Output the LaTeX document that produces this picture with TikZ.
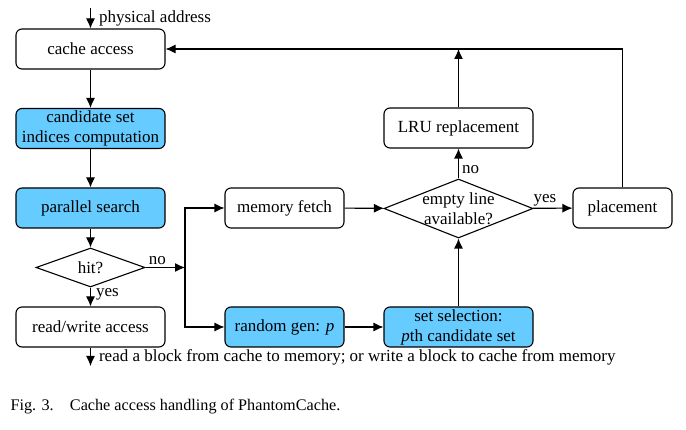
\documentclass[tikz,border=0pt]{standalone}
\usepackage{fontspec}
\setmainfont{Liberation Serif}
\usepackage{tikz}
\usetikzlibrary{shapes.geometric, arrows.meta, positioning}

\definecolor{cblue}{RGB}{102,204,255}

\tikzset{
  box/.style={draw, rounded corners=6pt, line width=1.1pt, minimum width=149pt,
    minimum height=40pt, inner sep=0pt, align=center},
  decision/.style={draw, diamond, line width=1.1pt, inner sep=0pt},
  lbl/.style={inner sep=4pt}
}

\begin{document}
\begin{tikzpicture}[x=1pt, y=-1pt, ->, >={Latex[length=10pt,width=9pt]}, line width=1.1pt,
  font=\rmfamily\fontsize{17}{20}\selectfont]
  \useasboundingbox (0,0) rectangle (686,430);

  % left column
  \node[box] (access) at (90.5,49) {cache access};
  \node[box, fill=cblue] (indices) at (90.5,128.5) {candidate set\\indices computation};
  \node[box, fill=cblue] (search) at (90.5,208) {parallel search};
  \node[decision, minimum width=109pt, minimum height=39pt] (hit) at (90.5,267.5) {};
  \node (hittext) at (hit) {hit?};
  \node[box] (rw) at (90.5,327) {read/write access};

  % miss path
  \node[box, minimum width=119pt] (fetch) at (284.5,208) {memory fetch};
  \node[box, minimum width=119pt, fill=cblue] (rand) at (284.5,327) {random gen: \textit{p}};
  \node[decision, minimum width=149pt, minimum height=59pt] (empty) at (458.5,208.5) {};
  \node[align=center, inner sep=0pt] (emptytext) at (empty) {empty line\\available?};
  \node[box, fill=cblue] (sel) at (458.5,327) {set selection:\\\textit{p}th candidate set};
  \node[box] (lru) at (458.5,128) {LRU replacement};
  \node[box, minimum width=99pt] (place) at (622.5,208) {placement};

  \coordinate (in) at (90.5,8);
  \coordinate (out) at (90.5,366);
  \coordinate (split) at (185,267.5);

  \draw (in) -- node[right, lbl, inner xsep=8pt] {physical address} (access);
  \draw (access) -- (indices);
  \draw (indices) -- (search);
  \draw (search) -- (hit);
  \draw (hit) -- node[right, lbl, pos=0.35, inner xsep=5pt] {yes} (rw);
  \draw (rw) -- node[right, lbl, pos=0.55, inner xsep=8pt] {read a block from cache to memory; or write a block to cache from memory} (out);

  \draw (hit.east) -- node[above, lbl, pos=0.3, inner sep=2pt] {no} (split);
  \draw (split) |- (fetch.west);
  \draw (split) |- (rand.west);
  \draw (fetch) -- (empty);
  \draw (rand) -- (sel);
  \draw (sel) -- (empty);
  \draw (empty) -- node[right, lbl, pos=0.3, inner sep=3pt] {no} (lru);
  \draw (empty) -- node[above, lbl, pos=0.3, inner sep=2pt] {yes} (place);
  \draw (place.north) |- (access.east);
  \draw (lru.north) -- (lru.north |- access.east);

  \node[anchor=west, inner sep=0pt, font=\rmfamily\fontsize{16.2}{19}\selectfont] (caption) at (10,407) {Fig. 3.\quad Cache access handling of PhantomCache.};
\end{tikzpicture}
\end{document}
